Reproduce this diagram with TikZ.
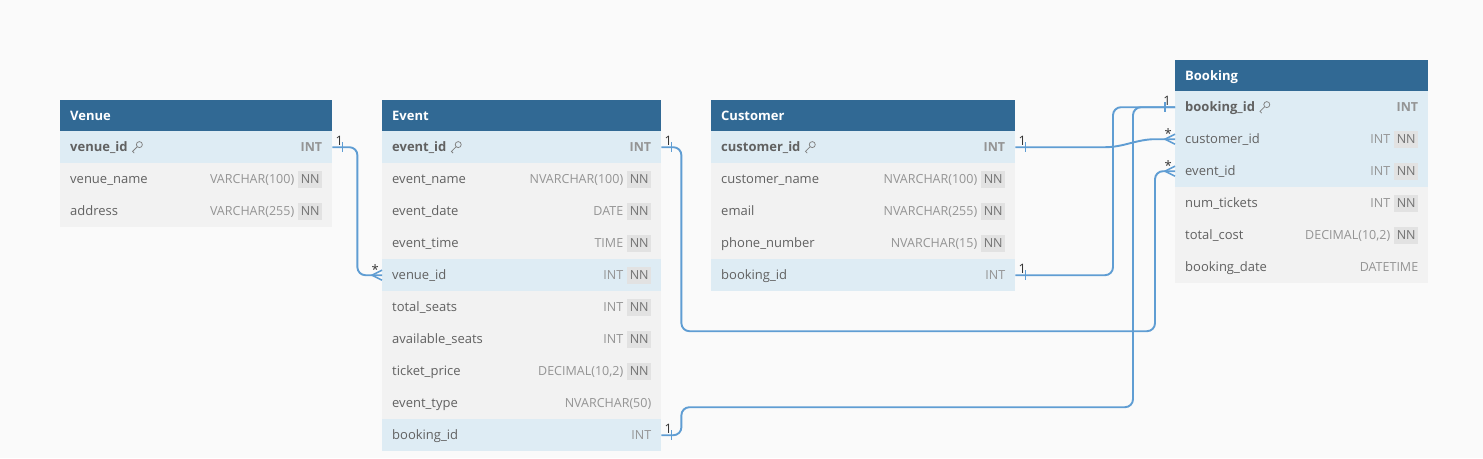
\documentclass[tikz,border=0pt]{standalone}
\usepackage{fontspec}
\setmainfont{Open Sans}
\usetikzlibrary{calc,positioning}
\definecolor{hdr}{HTML}{316994}
\definecolor{pkrow}{HTML}{DEECF4}
\definecolor{plainrow}{HTML}{F2F2F2}
\definecolor{bgc}{HTML}{FAFAFA}
\definecolor{nnbox}{HTML}{E2E2E2}
\definecolor{relc}{HTML}{5F9DD3}
\tikzset{
    tab head/.style={fill=hdr,inner sep=0pt,anchor=north west,minimum height=31pt},
    tab title/.style={anchor=base west,inner sep=0pt,text=white,font=\bfseries\fontsize{13}{15}\selectfont},
    tab row/.style={inner sep=0pt,anchor=north west,minimum height=32pt},
    col name/.style={anchor=base west,inner sep=0pt,text=black!62,font=\fontsize{13}{15}\selectfont},
    col type/.style={anchor=base east,inner sep=0pt,text=black!42,font=\fontsize{12.5}{15}\selectfont},
    nn badge/.style={anchor=east,fill=nnbox,inner sep=0pt,minimum width=24pt,minimum height=17pt,
        text height=9pt,text depth=0pt,text=black!55,font=\fontsize{12.5}{15}\selectfont},
    rel/.style={draw=relc,line width=1.9pt,rounded corners=8pt},
    card/.style={inner sep=0pt,text=black!80,font=\fontsize{13}{15}\selectfont},
    key line/.style={draw=black!50,line width=0.75pt},
    pkey/.pic={
        \draw[key line] (2.6,-2.6) circle[radius=3pt];
        \draw[key line] (0.5,-0.5) -- (-4.2,4.2) -- (-2.5,5.9);
    },
}

\begin{document}
\begin{tikzpicture}[x=1pt,y=-1pt]
    \fill[bgc] (0,0) rectangle (1483,458);
    \useasboundingbox (0,0) rectangle (1483,458);

    % Venue
    \node[tab head,minimum width=272pt] (venue) at (60,100) {};
    \node[tab title] at ([xshift=10pt,yshift=-4.5pt]venue.west) {Venue};
    \foreach \i/\fname/\ftype/\hasnn/\rc in {1/{\textbf{venue\_id}}/{\textbf{INT}}/0/pkrow,
        2/venue\_name/VARCHAR(100)/1/plainrow,3/address/VARCHAR(255)/1/plainrow}{
        \node[tab row,fill=\rc,minimum width=272pt] (venue-\i) at (60,{99+32*\i}) {};
        \node[col name] (venue-\i-n) at ([xshift=10pt,yshift=-4.5pt]venue-\i.west) {\fname};
        \ifnum\hasnn=1
            \node[nn badge] at ([xshift=-10pt]venue-\i.east) {NN};
            \node[col type] at ([xshift=-38pt,yshift=-4.5pt]venue-\i.east) {\ftype};
        \else
            \node[col type] at ([xshift=-10pt,yshift=-4.5pt]venue-\i.east) {\ftype};
        \fi
    }
    \pic at ([xshift=9pt,yshift=4.5pt]venue-1-n.base east) {pkey};

    % Event
    \node[tab head,minimum width=279pt] (event) at (382,100) {};
    \node[tab title] at ([xshift=10pt,yshift=-4.5pt]event.west) {Event};
    \foreach \i/\fname/\ftype/\hasnn/\rc in {1/{\textbf{event\_id}}/{\textbf{INT}}/0/pkrow,
        2/event\_name/NVARCHAR(100)/1/plainrow,3/event\_date/DATE/1/plainrow,
        4/event\_time/TIME/1/plainrow,5/venue\_id/INT/1/pkrow,6/total\_seats/INT/1/plainrow,
        7/available\_seats/INT/1/plainrow,8/ticket\_price/{DECIMAL(10,2)}/1/plainrow,
        9/event\_type/NVARCHAR(50)/0/plainrow,10/booking\_id/INT/0/pkrow}{
        \node[tab row,fill=\rc,minimum width=279pt] (event-\i) at (382,{99+32*\i}) {};
        \node[col name] (event-\i-n) at ([xshift=10pt,yshift=-4.5pt]event-\i.west) {\fname};
        \ifnum\hasnn=1
            \node[nn badge] at ([xshift=-10pt]event-\i.east) {NN};
            \node[col type] at ([xshift=-38pt,yshift=-4.5pt]event-\i.east) {\ftype};
        \else
            \node[col type] at ([xshift=-10pt,yshift=-4.5pt]event-\i.east) {\ftype};
        \fi
    }
    \pic at ([xshift=9pt,yshift=4.5pt]event-1-n.base east) {pkey};

    % Customer
    \node[tab head,minimum width=304pt] (customer) at (711,100) {};
    \node[tab title] at ([xshift=10pt,yshift=-4.5pt]customer.west) {Customer};
    \foreach \i/\fname/\ftype/\hasnn/\rc in {1/{\textbf{customer\_id}}/{\textbf{INT}}/0/pkrow,
        2/customer\_name/NVARCHAR(100)/1/plainrow,3/email/NVARCHAR(255)/1/plainrow,
        4/phone\_number/NVARCHAR(15)/1/plainrow,5/booking\_id/INT/0/pkrow}{
        \node[tab row,fill=\rc,minimum width=304pt] (customer-\i) at (711,{99+32*\i}) {};
        \node[col name] (customer-\i-n) at ([xshift=10pt,yshift=-4.5pt]customer-\i.west) {\fname};
        \ifnum\hasnn=1
            \node[nn badge] at ([xshift=-10pt]customer-\i.east) {NN};
            \node[col type] at ([xshift=-38pt,yshift=-4.5pt]customer-\i.east) {\ftype};
        \else
            \node[col type] at ([xshift=-10pt,yshift=-4.5pt]customer-\i.east) {\ftype};
        \fi
    }
    \pic at ([xshift=9pt,yshift=4.5pt]customer-1-n.base east) {pkey};

    % Booking
    \node[tab head,minimum width=253pt] (booking) at (1175,60) {};
    \node[tab title] at ([xshift=10pt,yshift=-4.5pt]booking.west) {Booking};
    \foreach \i/\fname/\ftype/\hasnn/\rc in {1/{\textbf{booking\_id}}/{\textbf{INT}}/0/pkrow,
        2/customer\_id/INT/1/pkrow,3/event\_id/INT/1/pkrow,4/num\_tickets/INT/1/plainrow,
        5/total\_cost/{DECIMAL(10,2)}/1/plainrow,6/booking\_date/DATETIME/0/plainrow}{
        \node[tab row,fill=\rc,minimum width=253pt] (booking-\i) at (1175,{59+32*\i}) {};
        \node[col name] (booking-\i-n) at ([xshift=10pt,yshift=-4.5pt]booking-\i.west) {\fname};
        \ifnum\hasnn=1
            \node[nn badge] at ([xshift=-10pt]booking-\i.east) {NN};
            \node[col type] at ([xshift=-38pt,yshift=-4.5pt]booking-\i.east) {\ftype};
        \else
            \node[col type] at ([xshift=-10pt,yshift=-4.5pt]booking-\i.east) {\ftype};
        \fi
    }
    \pic at ([xshift=9pt,yshift=4.5pt]booking-1-n.base east) {pkey};

    % relations
    \draw[rel] (venue-1.east) -| ([xshift=25pt]venue-1.east |- event-5.west) -- (event-5.west);
    \draw[rel] (event-1.east) -| ++(20,184) -| ([xshift=-20pt]booking-3.west) -- (booking-3.west);
    \draw[rel] (event-10.east) -| ++(20,-28) -| ([xshift=-42pt]booking-1.west) -- (booking-1.west);
    \draw[rel] (customer-1.east) -- ++(82,0) to[out=0,in=180] ([xshift=-12pt]booking-2.west) -- (booking-2.west);
    \draw[rel] (customer-5.east) -| ([xshift=-62pt]booking-1.west) -- (booking-1.west);

    % one ends
    \foreach \nd in {venue-1,event-1,event-10,customer-1,customer-5}{
        \draw[relc,line width=1.6pt] ([xshift=10pt,yshift=5pt]\nd.east) -- ([xshift=10pt,yshift=-5pt]\nd.east);
        \node[card,anchor=base west] at ([xshift=3pt,yshift=2pt]\nd.east) {1};
    }
    \draw[relc,line width=1.6pt] ([xshift=-10pt,yshift=5pt]booking-1.west) -- ([xshift=-10pt,yshift=-5pt]booking-1.west);
    \node[card,anchor=base east] at ([xshift=-4pt,yshift=2pt]booking-1.west) {1};

    % many ends
    \foreach \nd in {event-5,booking-2,booking-3}{
        \draw[relc,line width=1.6pt] ([yshift=5pt]\nd.west) -- ([xshift=-10pt]\nd.west) -- ([yshift=-5pt]\nd.west);
        \node[card,anchor=base east] at ([xshift=-3pt,yshift=1pt]\nd.west) {*};
    }
\end{tikzpicture}
\end{document}
